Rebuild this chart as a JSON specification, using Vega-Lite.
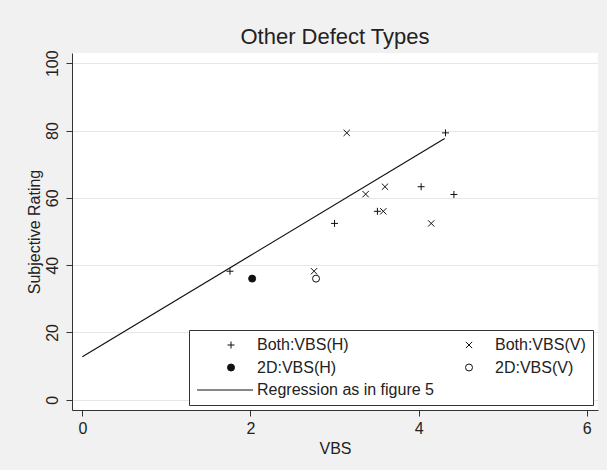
{
  "$schema": "https://vega.github.io/schema/vega-lite/v6.json",
  "width": 526,
  "height": 357,
  "autosize": "none",
  "padding": {"left": 72, "top": 53, "right": 9, "bottom": 60},
  "background": "#f1f1f1",
  "title": {"text": "Other Defect Types", "fontSize": 22, "font": "Liberation Sans", "fontWeight": "normal", "color": "#222222", "anchor": "middle", "offset": 1},
  "config": {
    "view": {"fill": "white", "stroke": null},
    "font": "Liberation Sans",
    "axis": {
      "domainColor": "#333333",
      "tickColor": "#333333",
      "tickSize": 6,
      "labelFontSize": 16,
      "labelColor": "#222222",
      "titleFontSize": 16,
      "titleFontWeight": "normal",
      "titleColor": "#222222",
      "labelFont": "Liberation Sans",
      "titleFont": "Liberation Sans",
      "gridColor": "#e6e6e6",
      "gridWidth": 1
    },
    "legend": {
      "orient": "none", "legendX": 117, "legendY": 277, "columns": 2,
      "padding": 7, "strokeColor": "#333333", "fillColor": "white",
      "labelFontSize": 16, "labelFont": "Liberation Sans", "labelColor": "#222222", "labelLimit": 300,
      "symbolSize": 49, "symbolStrokeColor": "#111111", "symbolStrokeWidth": 1, "symbolOpacity": 1,
      "symbolOffset": 27, "labelOffset": 18, "rowPadding": 6.5, "columnPadding": 0
    }
  },
  "datasets": {
    "points": [
      {"vbs": 1.756, "rating": 38.2, "series": "Both:VBS(H)"},
      {"vbs": 3.0, "rating": 52.4, "series": "Both:VBS(H)"},
      {"vbs": 3.51, "rating": 56.0, "series": "Both:VBS(H)"},
      {"vbs": 4.03, "rating": 63.3, "series": "Both:VBS(H)"},
      {"vbs": 4.42, "rating": 61.0, "series": "Both:VBS(H)"},
      {"vbs": 4.32, "rating": 79.3, "series": "Both:VBS(H)"},
      {"vbs": 2.756, "rating": 38.2, "series": "Both:VBS(V)"},
      {"vbs": 3.37, "rating": 61.1, "series": "Both:VBS(V)"},
      {"vbs": 3.6, "rating": 63.3, "series": "Both:VBS(V)"},
      {"vbs": 3.58, "rating": 56.0, "series": "Both:VBS(V)"},
      {"vbs": 4.15, "rating": 52.4, "series": "Both:VBS(V)"},
      {"vbs": 3.145, "rating": 79.3, "series": "Both:VBS(V)"},
      {"vbs": 2.02, "rating": 36.0, "series": "2D:VBS(H)"},
      {"vbs": 2.78, "rating": 36.0, "series": "2D:VBS(V)"}
    ],
    "regression": [
      {"vbs": 0, "rating": 12.8},
      {"vbs": 4.31, "rating": 77.6}
    ]
  },
  "layer": [
    {
      "data": {"name": "regression"},
      "mark": {"type": "line", "color": "#111111", "strokeWidth": 1.2},
      "encoding": {
        "x": {"field": "vbs", "type": "quantitative", "scale": {"domain": [-0.123, 6.134], "nice": false, "zero": false}},
        "y": {"field": "rating", "type": "quantitative", "scale": {"domain": [-3.03, 103.03], "nice": false, "zero": false}}
      }
    },
    {
      "data": {"name": "points"},
      "mark": {"type": "point", "strokeWidth": 1, "opacity": 1, "size": 49},
      "encoding": {
        "x": {
          "field": "vbs", "type": "quantitative",
          "scale": {"domain": [-0.123, 6.134], "nice": false, "zero": false},
          "axis": {"values": [0, 2, 4, 6], "format": "d", "grid": false, "title": "VBS", "labelPadding": 4, "titlePadding": 4, "labelFlush": false}
        },
        "y": {
          "field": "rating", "type": "quantitative",
          "scale": {"domain": [-3.03, 103.03], "nice": false, "zero": false},
          "axis": {"values": [0, 20, 40, 60, 80, 100], "format": "d", "grid": true, "title": "Subjective Rating", "labelAngle": -90, "labelAlign": "center", "labelBaseline": "bottom", "labelPadding": 6, "titlePadding": 2}
        },
        "shape": {
          "field": "series", "type": "nominal",
          "scale": {
            "domain": ["Both:VBS(H)", "2D:VBS(H)", "Regression as in figure 5", "Both:VBS(V)", "2D:VBS(V)"],
            "range": ["M-1,0H1M0,-1V1", "circle", "M-9.7,0H6.3", "M-0.9,-0.9L0.9,0.9M-0.9,0.9L0.9,-0.9", "circle"]
          },
          "legend": {"title": null}
        },
        "fill": {
          "field": "series", "type": "nominal",
          "scale": {
            "domain": ["Both:VBS(H)", "2D:VBS(H)", "Regression as in figure 5", "Both:VBS(V)", "2D:VBS(V)"],
            "range": ["transparent", "#111111", "transparent", "transparent", "transparent"]
          },
          "legend": {"title": null}
        },
        "stroke": {
          "field": "series", "type": "nominal",
          "scale": {
            "domain": ["Both:VBS(H)", "2D:VBS(H)", "Regression as in figure 5", "Both:VBS(V)", "2D:VBS(V)"],
            "range": ["#111111", "#111111", "#111111", "#111111", "#111111"]
          },
          "legend": {"title": null}
        }
      }
    }
  ]
}
